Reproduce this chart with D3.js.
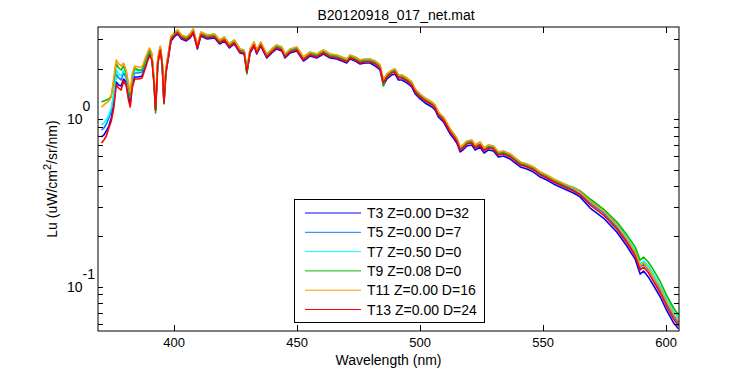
<!DOCTYPE html>
<html>
<head>
<meta charset="utf-8">
<script src="https://cdn.jsdelivr.net/npm/d3@7"></script>
<style>
  body { margin: 0; background: #fff; }
  svg { display: block; font-family: "Liberation Sans", Arial, sans-serif; }
</style>
</head>
<body>
<script>
// Wavelength grid (nm), shared by all series
const wavelength = [
  370.5,371.5,372.5,373.5,374.5,375.5,376.5,377.5,378.5,379.5,
  380.5,381.5,382.2,383.0,384.0,385.5,387.0,388.5,390.0,391.0,
  391.8,392.5,393.4,394.4,395.2,395.9,396.7,397.7,398.8,400.4,
  401.5,403.0,405.0,406.5,407.8,409.5,410.9,413.5,416.5,418.5,
  420.5,422.5,424.5,426.8,428.5,429.6,430.9,432.5,433.6,435.2,
  437.7,439.7,441.7,443.8,445.1,447.2,449.9,452.6,455.3,458.0,
  460.7,463.4,466.1,468.2,470.2,471.5,473.6,475.6,477.6,479.7,
  481.7,483.7,485.1,486.5,488.5,489.8,491.2,492.6,494.0,495.2,
  496.6,498.0,500.0,502.0,504.8,506.1,507.4,509.5,510.9,512.2,
  513.5,514.9,516.3,517.4,519.0,521.0,522.4,524.4,526.0,527.8,
  529.8,531.8,533.9,536.6,540.7,543.4,546.1,548.8,551.5,554.2,
  556.9,559.6,562.3,565.0,569.1,574.5,579.9,584.0,587.4,589.4,
  590.8,592.8,594.8,597.6,600.3,603.0,605.0
];

// Lu (uW/cm^2/sr/nm) per cast
const t3 = [
  0.784,0.806,0.851,0.912,1.018,1.234,1.671,1.603,1.581,1.741,
  1.671,1.359,1.234,1.603,1.789,1.789,1.814,2.111,2.455,2.292,
  1.694,1.137,2.169,2.630,2.140,1.252,1.891,2.323,2.936,3.145,
  3.233,3.018,2.936,3.060,3.278,2.630,3.145,3.018,3.060,2.818,
  2.936,2.667,2.818,2.489,2.455,1.891,2.489,2.741,2.455,2.741,
  2.323,2.489,2.630,2.559,2.323,2.489,2.559,2.230,2.388,2.323,
  2.455,2.323,2.292,2.230,2.169,2.292,2.230,2.140,2.169,2.169,
  2.082,1.970,1.603,1.741,1.839,1.865,1.717,1.717,1.671,1.625,
  1.560,1.416,1.322,1.252,1.184,1.137,1.032,0.964,0.887,0.817,
  0.773,0.722,0.638,0.656,0.693,0.702,0.656,0.683,0.629,0.656,
  0.647,0.596,0.604,0.579,0.519,0.505,0.484,0.452,0.434,0.411,
  0.394,0.378,0.363,0.344,0.295,0.257,0.212,0.175,0.146,0.119,
  0.124,0.114,0.102,0.0868,0.0716,0.0607,0.0560
];
const t5 = [
  0.863,0.887,0.937,1.018,1.137,1.378,1.865,1.765,1.717,1.891,
  1.789,1.456,1.341,1.717,1.891,1.891,1.917,2.199,2.559,2.388,
  1.741,1.184,2.230,2.667,2.169,1.287,1.943,2.421,3.060,3.233,
  3.323,3.102,3.018,3.145,3.369,2.704,3.233,3.102,3.145,2.896,
  3.018,2.741,2.896,2.559,2.523,1.943,2.559,2.818,2.523,2.818,
  2.388,2.559,2.704,2.630,2.388,2.559,2.630,2.292,2.455,2.388,
  2.523,2.388,2.356,2.292,2.230,2.356,2.292,2.199,2.230,2.230,
  2.169,2.053,1.671,1.814,1.917,1.943,1.789,1.789,1.741,1.694,
  1.625,1.476,1.378,1.304,1.234,1.184,1.076,1.004,0.925,0.851,
  0.806,0.752,0.665,0.683,0.722,0.732,0.683,0.712,0.656,0.683,
  0.674,0.621,0.629,0.604,0.541,0.526,0.505,0.471,0.452,0.428,
  0.411,0.394,0.378,0.358,0.317,0.276,0.227,0.188,0.157,0.131,
  0.137,0.126,0.113,0.0956,0.0788,0.0668,0.0607
];
const t7 = [
  0.925,0.950,0.990,1.061,1.168,1.416,1.970,1.865,1.814,1.970,
  1.865,1.538,1.378,1.765,1.970,1.943,1.970,2.261,2.594,2.421,
  1.765,1.201,2.261,2.704,2.199,1.304,1.970,2.455,3.102,3.323,
  3.416,3.189,3.102,3.233,3.463,2.779,3.323,3.189,3.233,2.977,
  3.102,2.818,2.977,2.630,2.594,1.998,2.630,2.896,2.594,2.896,
  2.455,2.630,2.779,2.704,2.455,2.630,2.704,2.356,2.523,2.455,
  2.594,2.455,2.421,2.356,2.292,2.421,2.356,2.261,2.292,2.292,
  2.230,2.111,1.717,1.865,1.970,1.998,1.839,1.839,1.789,1.741,
  1.671,1.517,1.416,1.341,1.269,1.218,1.106,1.032,0.950,0.875,
  0.828,0.773,0.683,0.702,0.742,0.752,0.702,0.732,0.674,0.702,
  0.693,0.638,0.647,0.621,0.556,0.541,0.519,0.484,0.465,0.440,
  0.422,0.405,0.394,0.373,0.330,0.287,0.237,0.198,0.166,0.137,
  0.142,0.133,0.119,0.101,0.0844,0.0716,0.0650
];
const t9 = [
  1.269,1.287,1.304,1.322,1.378,1.671,2.140,2.025,1.970,2.082,
  1.917,1.581,1.378,1.814,2.025,1.970,1.970,2.261,2.594,2.421,
  1.717,1.091,2.261,2.704,2.169,1.234,1.970,2.455,3.102,3.278,
  3.369,3.145,3.060,3.189,3.416,2.741,3.278,3.145,3.189,2.936,
  3.060,2.779,2.936,2.594,2.559,1.865,2.594,2.857,2.559,2.857,
  2.421,2.594,2.741,2.667,2.421,2.594,2.667,2.323,2.489,2.421,
  2.559,2.421,2.388,2.323,2.261,2.388,2.323,2.230,2.261,2.261,
  2.199,2.082,1.581,1.839,1.943,1.970,1.814,1.814,1.765,1.717,
  1.648,1.496,1.397,1.322,1.252,1.201,1.091,1.018,0.937,0.863,
  0.817,0.763,0.674,0.693,0.732,0.742,0.693,0.722,0.665,0.693,
  0.683,0.629,0.638,0.612,0.548,0.534,0.512,0.478,0.459,0.434,
  0.416,0.400,0.389,0.373,0.334,0.291,0.244,0.204,0.173,0.144,
  0.150,0.140,0.126,0.107,0.0880,0.0746,0.0677
];
const t11 = [
  1.184,1.218,1.252,1.287,1.359,1.765,2.261,2.140,2.082,2.169,
  1.970,1.625,1.456,1.865,2.082,2.053,2.053,2.356,2.667,2.489,
  1.814,1.269,2.356,2.741,2.261,1.397,2.025,2.489,3.145,3.323,
  3.416,3.189,3.102,3.233,3.463,2.779,3.323,3.189,3.233,2.977,
  3.102,2.818,2.977,2.630,2.594,1.998,2.630,2.896,2.594,2.896,
  2.455,2.630,2.779,2.704,2.455,2.630,2.704,2.356,2.523,2.455,
  2.594,2.455,2.421,2.356,2.292,2.421,2.356,2.261,2.292,2.292,
  2.230,2.111,1.717,1.865,1.970,1.998,1.839,1.839,1.789,1.741,
  1.671,1.517,1.416,1.341,1.269,1.218,1.106,1.032,0.950,0.875,
  0.828,0.773,0.683,0.702,0.742,0.752,0.702,0.732,0.674,0.702,
  0.693,0.638,0.647,0.621,0.556,0.541,0.519,0.484,0.465,0.440,
  0.422,0.405,0.389,0.368,0.325,0.283,0.234,0.193,0.161,0.133,
  0.139,0.128,0.114,0.098,0.0810,0.0687,0.0623
];
const t13 = [
  0.722,0.752,0.795,0.887,0.977,1.168,1.603,1.538,1.496,1.694,
  1.603,1.304,1.184,1.538,1.741,1.741,1.765,2.053,2.421,2.261,
  1.671,1.137,2.140,2.594,2.111,1.252,1.891,2.356,3.018,3.189,
  3.278,3.060,2.977,3.102,3.323,2.667,3.189,3.060,3.102,2.857,
  2.977,2.704,2.857,2.523,2.489,1.917,2.523,2.779,2.489,2.779,
  2.356,2.523,2.667,2.594,2.356,2.523,2.594,2.261,2.421,2.356,
  2.489,2.356,2.323,2.261,2.199,2.323,2.261,2.169,2.199,2.199,
  2.140,2.025,1.648,1.789,1.891,1.917,1.765,1.765,1.717,1.671,
  1.603,1.456,1.359,1.287,1.218,1.168,1.061,0.990,0.912,0.840,
  0.795,0.742,0.656,0.674,0.712,0.722,0.674,0.702,0.647,0.674,
  0.665,0.612,0.621,0.596,0.534,0.519,0.498,0.465,0.446,0.422,
  0.405,0.389,0.373,0.353,0.308,0.268,0.221,0.183,0.153,0.126,
  0.131,0.121,0.108,0.0917,0.0756,0.0641,0.0583
];

const seriesNames = ["T3 Z=0.00 D=32", "T5 Z=0.00 D=7", "T7 Z=0.50 D=0",
                     "T9 Z=0.08 D=0", "T11 Z=0.00 D=16", "T13 Z=0.00 D=24"];
const seriesValues = [t3, t5, t7, t9, t11, t13];
const seriesColors = ["#0000ff", "#0080ff", "#00ffff", "#00c000", "#ff9900", "#ff0000"];

const xTicks = [400, 450, 500, 550, 600];
const yMajorTicks = [0.1, 1];
const yMinorTicks = [0.06, 0.07, 0.08, 0.09, 0.2, 0.3, 0.4, 0.5, 0.6, 0.7, 0.8, 0.9, 2, 3];

const chartTitle = "B20120918_017_net.mat";
const xLabel = "Wavelength (nm)";

// Layout
const width = 750, height = 375;
const margin = { top: 27, right: 71, bottom: 44, left: 98 };
const plotWidth = width - margin.left - margin.right;
const plotHeight = height - margin.top - margin.bottom;

const svg = d3.select("body").append("svg")
    .attr("width", width)
    .attr("height", height);

const g = svg.append("g")
    .attr("transform", `translate(${margin.left},${margin.top})`);

const x = d3.scaleLinear()
    .domain([369.1, 605.2])
    .range([0, plotWidth]);

const y = d3.scaleLog()
    .domain([0.05436, 3.559])
    .range([plotHeight, 0]);

g.append("clipPath").attr("id", "clip")
  .append("rect").attr("width", plotWidth).attr("height", plotHeight);

// Data lines
const line = d3.line()
    .x((d, i) => x(wavelength[i]))
    .y(d => y(d));

g.append("g").attr("clip-path", "url(#clip)")
  .selectAll("path")
  .data(seriesValues)
  .join("path")
    .attr("fill", "none")
    .attr("stroke", (d, i) => seriesColors[i])
    .attr("stroke-width", 1.6)
    .attr("stroke-linejoin", "round")
    .attr("d", line);

// Box and inward ticks
g.append("rect")
    .attr("width", plotWidth).attr("height", plotHeight)
    .attr("fill", "none").attr("stroke", "#000").attr("stroke-width", 1);

const ticks = g.append("g").attr("stroke", "#000").attr("stroke-width", 1);
xTicks.forEach(t => {
  const px = Math.round(x(t)) + 0.5;
  ticks.append("line").attr("x1", px).attr("x2", px).attr("y1", plotHeight).attr("y2", plotHeight - 6);
  ticks.append("line").attr("x1", px).attr("x2", px).attr("y1", 0).attr("y2", 6);
});
yMajorTicks.concat(yMinorTicks).forEach(t => {
  const py = Math.round(y(t)) + 0.5;
  ticks.append("line").attr("x1", 0).attr("x2", 5).attr("y1", py).attr("y2", py);
  ticks.append("line").attr("x1", plotWidth).attr("x2", plotWidth - 5).attr("y1", py).attr("y2", py);
});

// Tick labels
g.append("g").selectAll("text")
  .data(xTicks)
  .join("text")
    .attr("x", d => x(d))
    .attr("y", plotHeight + 16)
    .attr("text-anchor", "middle")
    .attr("font-size", 13)
    .text(d => d);

const yl = g.append("g").selectAll("text")
  .data(yMajorTicks)
  .join("text")
    .attr("x", -31)
    .attr("y", d => y(d) + 5)
    .attr("font-size", 14);
yl.append("tspan").text("10");
yl.append("tspan")
    .attr("dy", -13)
    .attr("font-size", 14)
    .text(d => Math.round(Math.log10(d)));

// Title and axis labels
svg.append("text")
    .attr("x", 396).attr("y", 20)
    .attr("text-anchor", "middle")
    .attr("font-size", 14)
    .text(chartTitle);

svg.append("text")
    .attr("x", margin.left + plotWidth / 2).attr("y", 365)
    .attr("text-anchor", "middle")
    .attr("font-size", 14)
    .text(xLabel);

const ylab = svg.append("text")
    .attr("transform", `translate(57,${margin.top + plotHeight / 2}) rotate(-90)`)
    .attr("text-anchor", "middle")
    .attr("font-size", 14);
ylab.append("tspan").text("Lu (uW/cm");
ylab.append("tspan").attr("dy", -6).attr("font-size", 11).text("2");
ylab.append("tspan").attr("dy", 6).text("/sr/nm)");

// Legend
const legend = svg.append("g").attr("transform", "translate(294,199)");
legend.append("rect")
    .attr("x", 0.5).attr("y", 0.5)
    .attr("width", 190).attr("height", 123)
    .attr("fill", "#fff").attr("stroke", "#000");

const items = legend.selectAll("g.item")
  .data(seriesNames)
  .join("g")
    .attr("class", "item")
    .attr("transform", (d, i) => `translate(0,${14 + i * 19.3})`);
items.append("line")
    .attr("x1", 11).attr("x2", 67)
    .attr("stroke", (d, i) => seriesColors[i])
    .attr("stroke-width", 1);
items.append("text")
    .attr("x", 73).attr("y", 5)
    .attr("font-size", 14)
    .text(d => d);
</script>
</body>
</html>
